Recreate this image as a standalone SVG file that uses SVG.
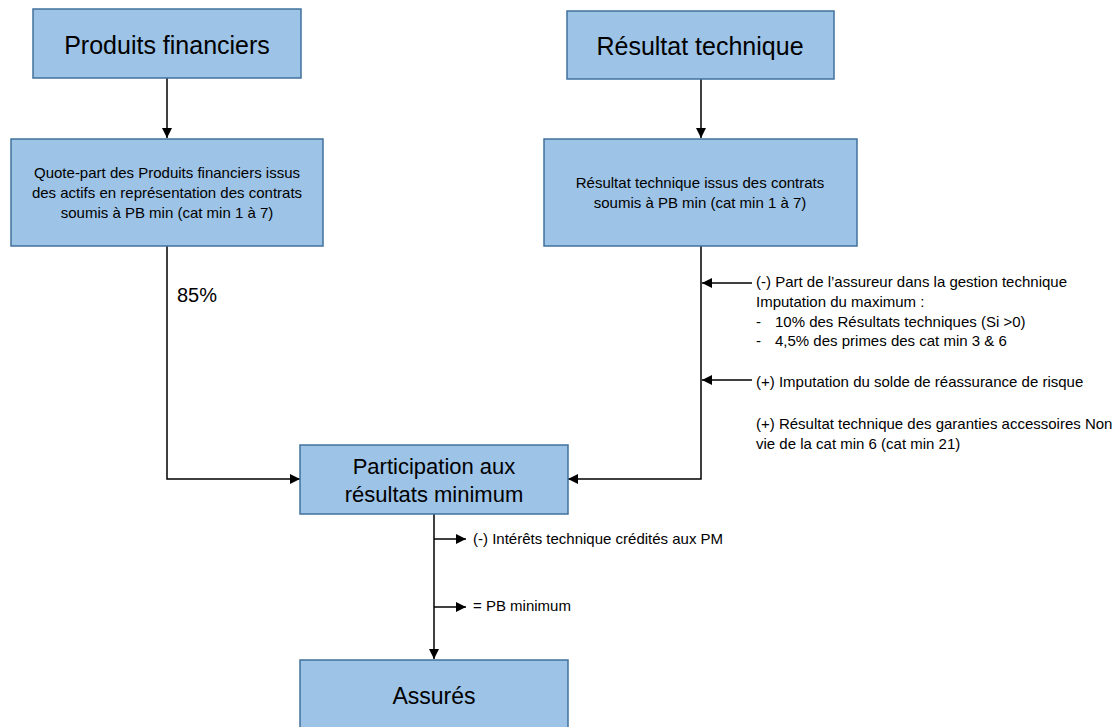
<svg xmlns="http://www.w3.org/2000/svg" width="1115" height="727" viewBox="0 0 1115 727">
<defs>
<marker id="ah" viewBox="0 0 10 10" refX="10" refY="5" markerWidth="10" markerHeight="10" markerUnits="userSpaceOnUse" orient="auto">
<path d="M0,0 L10,5 L0,10 z" fill="#000"/>
</marker>
<style>
.box{fill:#9DC3E6;stroke:#41719C;stroke-width:1.5}
.t{font-family:"Liberation Sans",Arial,sans-serif;fill:#000;text-anchor:middle}
.big{font-size:25px}
.mid{font-size:22px}
.sm{font-size:15px}
.note{font-family:"Liberation Sans",Arial,sans-serif;font-size:15px;fill:#000}
.c{fill:none;stroke:#000;stroke-width:1.5}
</style>
</defs>
<rect width="1115" height="727" fill="#fff"/>
<g id="connectors">
<line class="c" x1="167" y1="78" x2="167" y2="138" marker-end="url(#ah)"/>
<line class="c" x1="701" y1="79" x2="701" y2="138" marker-end="url(#ah)"/>
<polyline class="c" points="167,246 167,479 300,479" marker-end="url(#ah)"/>
<polyline class="c" points="701,246 701,479 568,479" marker-end="url(#ah)"/>
<line class="c" x1="752" y1="283" x2="702" y2="283" marker-end="url(#ah)"/>
<line class="c" x1="752" y1="380" x2="702" y2="380" marker-end="url(#ah)"/>
<line class="c" x1="434" y1="514" x2="434" y2="659" marker-end="url(#ah)"/>
<line class="c" x1="434" y1="539" x2="466" y2="539" marker-end="url(#ah)"/>
<line class="c" x1="434" y1="607" x2="466" y2="607" marker-end="url(#ah)"/>
</g>
<g id="produits-financiers">
<rect class="box" x="33" y="9" width="268" height="69"/>
<text class="t big" x="167" y="54">Produits financiers</text>
</g>
<g id="resultat-technique">
<rect class="box" x="567" y="11" width="267" height="68"/>
<text class="t big" x="700" y="55">Résultat technique</text>
</g>
<g id="quote-part">
<rect class="box" x="11" y="139" width="312" height="107"/>
<text class="t sm" x="167" y="178">Quote-part des Produits financiers issus</text>
<text class="t sm" x="167" y="198">des actifs en représentation des contrats</text>
<text class="t sm" x="167" y="218">soumis à PB min (cat min 1 à 7)</text>
</g>
<g id="resultat-contrats">
<rect class="box" x="544" y="139" width="313" height="107"/>
<text class="t sm" x="700" y="188">Résultat technique issus des contrats</text>
<text class="t sm" x="700" y="208">soumis à PB min (cat min 1 à 7)</text>
</g>
<g id="participation">
<rect class="box" x="300" y="445" width="268" height="69"/>
<text class="t mid" x="434" y="474">Participation aux</text>
<text class="t mid" x="434" y="502">résultats minimum</text>
</g>
<g id="assures">
<rect class="box" x="300" y="660" width="268" height="80"/>
<text class="t" x="434" y="704" style="font-size:23px">Assurés</text>
</g>
<g id="labels">
<text class="note" x="177" y="302" style="font-size:20px">85%</text>
<text class="note" x="756" y="287">(-) Part de l’assureur dans la gestion technique</text>
<text class="note" x="756" y="307">Imputation du maximum :</text>
<text class="note" x="756" y="327">-</text>
<text class="note" x="775" y="327">10% des Résultats techniques (Si &gt;0)</text>
<text class="note" x="756" y="346">-</text>
<text class="note" x="775" y="346">4,5% des primes des cat min 3 &amp; 6</text>
<text class="note" x="756" y="387">(+) Imputation du solde de réassurance de risque</text>
<text class="note" x="756" y="429">(+) Résultat technique des garanties accessoires Non</text>
<text class="note" x="756" y="449">vie de la cat min 6 (cat min 21)</text>
<text class="note" x="473" y="544">(-) Intérêts technique crédités aux PM</text>
<text class="note" x="473" y="611">= PB minimum</text>
</g>
</svg>
